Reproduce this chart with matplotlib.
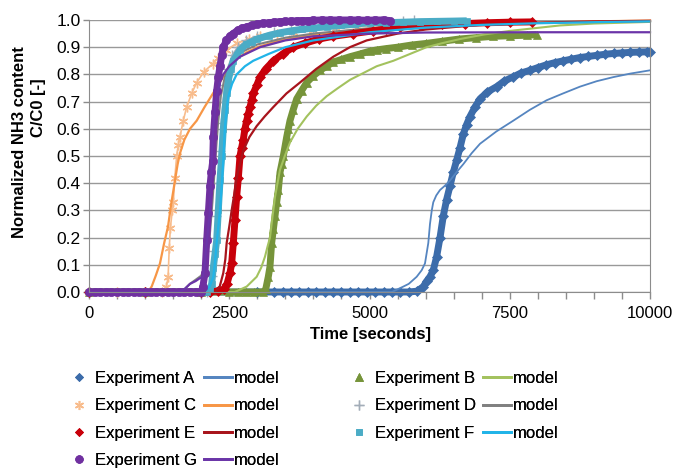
import matplotlib
matplotlib.use("Agg")
import matplotlib.pyplot as plt
from matplotlib.lines import Line2D
from matplotlib.ticker import MultipleLocator, FormatStrFormatter, NullFormatter


plt.rcParams["font.family"] = ["Liberation Sans", "DejaVu Sans"]

# experiment A (diamonds) and its model
exp_a_t = [0, 1000, 2000, 3000, 3300, 3450, 3600, 3750, 3900, 4050, 4200, 4350, 4500, 4650,
           4800, 4950, 5100, 5250, 5400, 5550, 5700, 5850, 5960, 6020, 6078, 6137, 6197, 6257,
           6316, 6375, 6435, 6494, 6554, 6613, 6672, 6730, 6791, 6880, 6970, 7100, 7267, 7400,
           7550, 7700, 7861, 8000, 8150, 8300, 8455, 8600, 8750, 8900, 9050, 9200, 9350, 9500,
           9650, 9800, 9941, 10000]
exp_a_v = [0, 0, 0, 0, 0, 0, 0, 0, 0, 0, 0, 0, 0, 0,
           0, 0, 0, 0, 0, 0, 0, 0.003, 0.02, 0.04, 0.056, 0.08, 0.13, 0.20,
           0.28, 0.34, 0.39, 0.44, 0.485, 0.53, 0.58, 0.615, 0.645, 0.68, 0.71, 0.735, 0.755, 0.775,
           0.79, 0.805, 0.815, 0.825, 0.835, 0.843, 0.85, 0.856, 0.862, 0.866, 0.87, 0.874, 0.877, 0.879,
           0.881, 0.882, 0.883, 0.884]
mod_a_t = [0, 5400, 5603, 5700, 5841, 5930, 5989, 6048, 6078, 6110, 6137, 6190, 6257, 6340, 6435,
           6550, 6672, 6820, 6970, 7260, 7564, 7860, 8158, 8450, 8752, 9050, 9346, 9650, 10000]
mod_a_v = [0, 0, 0.02, 0.03, 0.056, 0.08, 0.105, 0.18, 0.25, 0.30, 0.33, 0.355, 0.375, 0.39, 0.41,
           0.44, 0.47, 0.51, 0.545, 0.59, 0.63, 0.67, 0.705, 0.73, 0.755, 0.775, 0.79, 0.803, 0.815]

# experiment B (triangles)
exp_b_t = [0, 1000, 2000, 2500, 2650, 2800, 2950, 3100, 3150, 3196, 3226, 3256, 3286, 3316, 3345,
           3375, 3405, 3435, 3464, 3494, 3524, 3553, 3583, 3640, 3702, 3790, 3880, 4000, 4120,
           4237, 4350, 4500, 4652, 4830, 5000, 5128, 5300, 5500, 5750, 6016, 6300, 6600, 6900,
           7200, 7500, 7800, 7980]
exp_b_v = [0, 0, 0, 0, 0, 0, 0, 0, 0.01, 0.056, 0.093, 0.18, 0.23, 0.28, 0.33,
           0.375, 0.44, 0.47, 0.50, 0.535, 0.57, 0.60, 0.63, 0.67, 0.71, 0.74, 0.77, 0.795, 0.815,
           0.83, 0.845, 0.855, 0.865, 0.875, 0.885, 0.89, 0.895, 0.90, 0.908, 0.914, 0.922, 0.93, 0.935,
           0.94, 0.942, 0.944, 0.946]
mod_b_t = [0, 2600, 2811, 2989, 3070, 3137, 3180, 3226, 3270, 3316, 3360, 3405, 3490, 3583, 3720,
           3880, 4050, 4237, 4440, 4652, 4890, 5128, 5424, 5720, 6016, 6300, 6613, 7050, 7505, 7950,
           8396, 9000, 10000]
mod_b_v = [0, 0, 0.02, 0.056, 0.09, 0.13, 0.165, 0.20, 0.275, 0.35, 0.40, 0.45, 0.50, 0.55, 0.60,
           0.645, 0.685, 0.72, 0.75, 0.78, 0.805, 0.83, 0.85, 0.875, 0.90, 0.915, 0.93, 0.947, 0.96, 0.97,
           0.98, 0.987, 0.993]

# experiment C (stars)
exp_c_t = [0, 500, 1000, 1300, 1380, 1410, 1430, 1450, 1485, 1503, 1530, 1563, 1590, 1622, 1680,
           1741, 1830, 1920, 2050, 2210, 2300, 2450, 2640, 2850, 3050, 3350, 3640, 4000, 4400,
           4800, 5200, 5600, 6000]
exp_c_v = [0, 0, 0, 0, 0.02, 0.055, 0.16, 0.235, 0.30, 0.33, 0.42, 0.50, 0.54, 0.57, 0.63,
           0.68, 0.73, 0.77, 0.81, 0.84, 0.86, 0.89, 0.915, 0.93, 0.94, 0.948, 0.955, 0.962, 0.97,
           0.975, 0.98, 0.983, 0.986]
mod_c_t = [0, 1050, 1117, 1190, 1265, 1340, 1408, 1470, 1533, 1580, 1622, 1700, 1800, 1920, 2060,
           2210, 2360, 2513, 2650, 2800, 3000, 3400, 4000, 5000, 6000, 7000, 8000, 9000, 10000]
mod_c_v = [0, 0, 0.02, 0.06, 0.105, 0.18, 0.24, 0.33, 0.41, 0.47, 0.51, 0.56, 0.60, 0.63, 0.68,
           0.73, 0.78, 0.83, 0.86, 0.88, 0.90, 0.925, 0.945, 0.962, 0.975, 0.984, 0.99, 0.995, 0.998]

# experiment D (plus)
exp_d_t = [0, 1000, 2000, 2100, 2150, 2190, 2230, 2270, 2300, 2330, 2360, 2390, 2420, 2470, 2550,
           2650, 2800, 3000, 3300, 3600, 4000, 4400, 4800, 5200, 5600, 5800]
exp_d_v = [0, 0, 0, 0, 0.02, 0.06, 0.15, 0.28, 0.40, 0.52, 0.62, 0.70, 0.76, 0.82, 0.87,
           0.90, 0.925, 0.94, 0.955, 0.965, 0.975, 0.983, 0.99, 0.995, 0.998, 1.0]
mod_d_t = [0, 1600, 1700, 1800, 1900, 2000, 2080, 2150, 2200, 2250, 2300, 2350, 2420, 2520, 2700,
           3000, 3500, 4000, 5000, 6000, 7000, 8000, 10000]
mod_d_v = [0, 0, 0.01, 0.03, 0.045, 0.06, 0.10, 0.20, 0.33, 0.48, 0.62, 0.72, 0.79, 0.84, 0.88,
           0.91, 0.935, 0.95, 0.97, 0.98, 0.986, 0.99, 0.995]

# experiment E (diamonds)
exp_e_t = [0, 1000, 2000, 2150, 2300, 2400, 2460, 2513, 2543, 2572, 2602, 2632, 2662, 2692, 2720,
           2750, 2780, 2811, 2840, 2870, 2900, 2929, 2990, 3048, 3150, 3286, 3450, 3642, 3850,
           4100, 4350, 4700, 5063, 5300, 5544, 5900, 6300, 6700, 7100, 7500, 7900]
exp_e_v = [0, 0, 0, 0, 0.005, 0.01, 0.03, 0.07, 0.105, 0.18, 0.265, 0.35, 0.42, 0.50, 0.53,
           0.56, 0.60, 0.63, 0.655, 0.68, 0.705, 0.73, 0.76, 0.79, 0.82, 0.85, 0.875, 0.90, 0.915,
           0.93, 0.94, 0.95, 0.96, 0.968, 0.975, 0.98, 0.984, 0.987, 0.99, 0.992, 0.993]
mod_e_t = [0, 2250, 2330, 2394, 2430, 2454, 2500, 2543, 2590, 2632, 2690, 2750, 2860, 2989, 3130,
           3286, 3520, 3760, 4050, 4355, 4650, 4950, 5500, 6000, 7000, 8000, 9000, 10000]
mod_e_v = [0, 0, 0.02, 0.07, 0.12, 0.18, 0.24, 0.30, 0.36, 0.42, 0.47, 0.52, 0.57, 0.61, 0.645,
           0.68, 0.73, 0.77, 0.82, 0.865, 0.90, 0.925, 0.95, 0.965, 0.983, 0.99, 0.995, 0.997]

# experiment F (squares)
exp_f_t = [0, 1000, 2000, 2100, 2150, 2187, 2216, 2246, 2276, 2305, 2335, 2365, 2394, 2424, 2454,
           2484, 2530, 2572, 2630, 2692, 2800, 2900, 3000, 3200, 3400, 3600, 3800, 4000, 4250,
           4500, 4750, 5000, 5300, 5600, 5900, 6200, 6500, 6733]
exp_f_v = [0, 0, 0, 0, 0.01, 0.03, 0.09, 0.14, 0.19, 0.30, 0.41, 0.50, 0.60, 0.67, 0.73,
           0.78, 0.82, 0.85, 0.87, 0.89, 0.91, 0.92, 0.93, 0.943, 0.953, 0.96, 0.966, 0.97, 0.976,
           0.98, 0.985, 0.99, 0.99, 0.992, 0.994, 0.995, 0.996, 0.997]
mod_f_t = [0, 2050, 2150, 2216, 2246, 2276, 2305, 2335, 2365, 2394, 2424, 2454, 2484, 2550, 2632,
           2780, 2927, 3200, 3500, 4000, 5000, 6000, 7000, 8000, 9000, 10000]
mod_f_v = [0, 0, 0.02, 0.056, 0.11, 0.18, 0.24, 0.30, 0.39, 0.485, 0.61, 0.67, 0.72, 0.765, 0.80,
           0.83, 0.85, 0.875, 0.90, 0.925, 0.955, 0.972, 0.982, 0.988, 0.992, 0.995]

# experiment G (circles)
exp_g_t = [0, 100, 200, 300, 400, 500, 600, 700, 800, 900, 1000, 1100, 1200, 1300, 1400, 1500,
           1600, 1700, 1800, 1900, 2000, 2030, 2068, 2098, 2127, 2157, 2180, 2205, 2216, 2246,
           2276, 2305, 2335, 2365, 2394, 2450, 2510, 2567, 2650, 2730, 2811, 2900, 3000, 3100,
           3200, 3300, 3400, 3500, 3600, 3700, 3800, 3900, 4000, 4150, 4300, 4450, 4650, 4800,
           4950, 5100, 5250, 5365]
exp_g_v = [0, 0, 0, 0, 0, 0, 0, 0, 0, 0, 0, 0, 0, 0, 0, 0,
           0, 0, 0, 0, 0, 0.02, 0.07, 0.19, 0.29, 0.39, 0.44, 0.48, 0.57, 0.66,
           0.74, 0.79, 0.83, 0.87, 0.90, 0.925, 0.94, 0.95, 0.962, 0.97, 0.975, 0.98, 0.985, 0.988,
           0.99, 0.992, 0.994, 0.995, 0.996, 0.997, 0.998, 0.998, 0.999, 1.0, 1.0, 1.0, 1.0, 1.0,
           0.999, 1.0, 1.0, 0.998]
mod_g_t = [0, 1600, 1700, 1800, 1900, 1970, 2032, 2060, 2098, 2127, 2157, 2175, 2187, 2200, 2216,
           2246, 2276, 2330, 2394, 2500, 2692, 3048, 3500, 4000, 5000, 6000, 8000, 10000]
mod_g_v = [0, 0, 0.01, 0.03, 0.04, 0.05, 0.056, 0.10, 0.18, 0.24, 0.30, 0.40, 0.485, 0.55, 0.61,
           0.67, 0.72, 0.77, 0.80, 0.83, 0.865, 0.90, 0.925, 0.94, 0.95, 0.954, 0.955, 0.955]

series = [
    ("Experiment A", exp_a_t, exp_a_v, mod_a_t, mod_a_v, "D", 5.0, "#3C6CAA", "#5585C0", 1.3),
    ("Experiment B", exp_b_t, exp_b_v, mod_b_t, mod_b_v, "^", 6.0, "#76943A", "#A3C25E", 1.5),
    ("Experiment C", exp_c_t, exp_c_v, mod_c_t, mod_c_v, (6, 2, 0), 7.0, "#F8BC8C", "#F79646", 1.6),
    ("Experiment D", exp_d_t, exp_d_v, mod_d_t, mod_d_v, "+", 7.0, "#A3ADB8", "#808080", 1.5),
    ("Experiment E", exp_e_t, exp_e_v, mod_e_t, mod_e_v, "D", 5.0, "#C8000A", "#A8141C", 1.6),
    ("Experiment F", exp_f_t, exp_f_v, mod_f_t, mod_f_v, "s", 4.5, "#4BACC6", "#21B4E8", 1.6),
    ("Experiment G", exp_g_t, exp_g_v, mod_g_t, mod_g_v, "o", 6.0, "#7030A0", "#6B35A8", 1.6),
]

fig = plt.figure(figsize=(6.75, 4.68), dpi=100)
ax = fig.add_axes([89 / 675, 1 - 292 / 468, 561 / 675, 272 / 468])

handles = {}
for name, et, ev, mt, mv, mk, ms, ecol, mcol, mlw in series:
    thin = mk in ("+", (6, 2, 0))
    ax.plot(et, ev, color=ecol, lw=1.2 if thin else 5.0, marker=mk, ms=ms,
            mew=1.0 if thin else 0.5, mec=ecol, mfc=ecol, clip_on=False,
            solid_capstyle="butt", solid_joinstyle="round")
    ax.plot(mt, mv, color=mcol, lw=mlw, clip_on=False)
    handles[name] = (
        Line2D([], [], ls="none", marker=mk, ms=ms - 0.5, color=ecol, mec=ecol, mew=1.0 if thin else 0.5),
        Line2D([], [], color=mcol, lw=2.0),
    )

ax.set_xlim(0, 10000)
ax.set_ylim(0, 1.0)
ax.xaxis.set_major_locator(MultipleLocator(2500))
ax.xaxis.set_minor_locator(MultipleLocator(500))
ax.xaxis.set_minor_formatter(NullFormatter())
ax.yaxis.set_major_locator(MultipleLocator(0.1))
ax.yaxis.set_major_formatter(FormatStrFormatter("%.1f"))
ax.tick_params(axis="x", which="both", direction="out", length=5, width=1, color="#8C8C8C",
               labelsize=12, pad=5)
ax.tick_params(axis="y", direction="out", length=4, width=1, color="#8C8C8C", labelsize=12.5, pad=2)
ax.grid(axis="y", color="#999999", lw=1.0)
ax.set_axisbelow(True)
for side in ["left", "bottom", "right"]:
    ax.spines[side].set_color("#8C8C8C")
ax.spines["top"].set_visible(False)

fig.text(370 / 675, 1 - 334 / 468, "Time [seconds]", ha="center", va="center",
         fontsize=12, fontweight="bold")
fig.text(20 / 675, 1 - 142 / 468, "Normalized NH3 content", rotation=90, ha="center",
         va="center", fontsize=12, fontweight="bold")
fig.text(38 / 675, 1 - 108 / 468, "C/C0 [-]", rotation=90, ha="center", va="center",
         fontsize=12, fontweight="bold")

legend_kw = dict(fontsize=12, ncol=2, frameon=False, handlelength=1.68, handletextpad=0.12,
                 columnspacing=0.4, labelspacing=0.74, borderpad=0, borderaxespad=0,
                 loc="upper left")

left_names = ["Experiment A", "Experiment C", "Experiment E", "Experiment G"]
right_names = ["Experiment B", "Experiment D", "Experiment F"]
for names, x0 in [(left_names, 65), (right_names, 345)]:
    hs = [handles[n][0] for n in names] + [handles[n][1] for n in names]
    labels = names + ["model"] * len(names)
    leg = fig.legend(hs, labels, bbox_to_anchor=(x0 / 675, 1 - 371 / 468), **legend_kw)
    fig.add_artist(leg)

fig.savefig("out.png", dpi=100)
